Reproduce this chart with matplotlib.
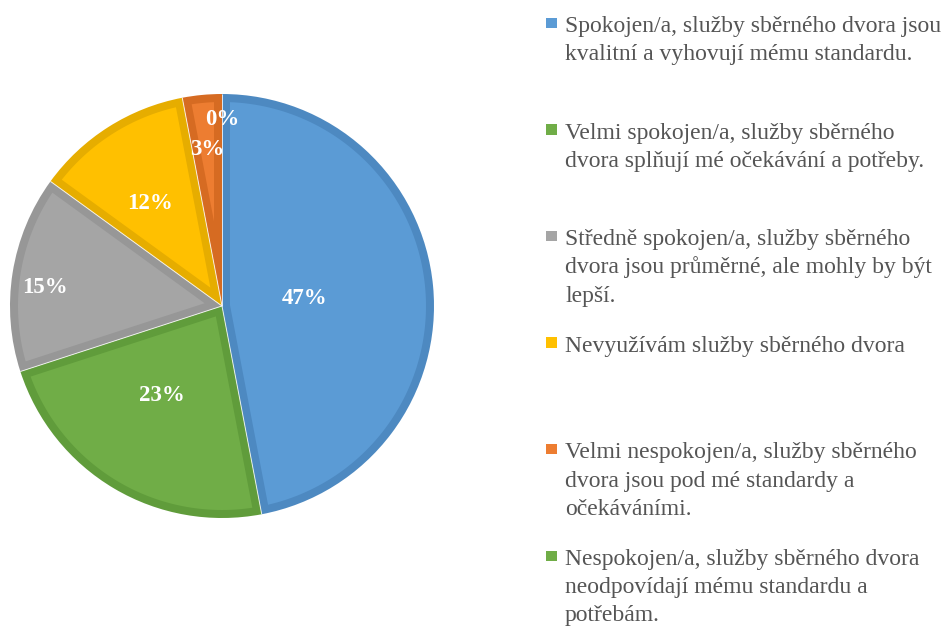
import matplotlib
matplotlib.use("Agg")
import matplotlib.pyplot as plt
from matplotlib.patches import Polygon
import numpy as np

# Survey answers (share of respondents, %)
categories = [
    "Spokojen/a, služby sběrného dvora jsou\nkvalitní a vyhovují mému standardu.",
    "Velmi spokojen/a, služby sběrného\ndvora splňují mé očekávání a potřeby.",
    "Středně spokojen/a, služby sběrného\ndvora jsou průměrné, ale mohly by být\nlepší.",
    "Nevyužívám služby sběrného dvora",
    "Velmi nespokojen/a, služby sběrného\ndvora jsou pod mé standardy a\nočekáváními.",
    "Nespokojen/a, služby sběrného dvora\nneodpovídají mému standardu a\npotřebám.",
]
values = [47, 23, 15, 12, 3, 0]

fill_colors = ["#5B9BD5", "#70AD47", "#A5A5A5", "#FFC000", "#ED7D31", "#70AD47"]
edge_colors = ["#4D89C1", "#609C3B", "#979797", "#E6AD00", "#D66B22", "#609C3B"]
label_radius = [0.39, 0.51, 0.84, 0.59, 0.74, 0.88]
label_shift = [0.0, -3.5, 3.0, 2.6, 0.0, 0.0]  # degrees

SERIF = ["Liberation Serif", "DejaVu Serif"]
W, H = 947, 626

fig = plt.figure(figsize=(W / 100, H / 100), dpi=100)
cx, cy, r = 222, 306, 212
ax = fig.add_axes([(cx - r) / W, (H - cy - r) / H, 2 * r / W, 2 * r / H])

# outer slices in the darker rim colour
wedges, _ = ax.pie(values, colors=edge_colors, startangle=90, counterclock=False,
                   radius=1, wedgeprops=dict(linewidth=0))

rim = 8 / r  # rim width in data units


def inset_slice(theta_hi, theta_lo, b):
    """Polygon of a slice shrunk inward by distance b on every side (degrees)."""
    half = np.deg2rad(theta_hi - theta_lo) / 2
    if half <= 0:
        return None
    ro = 1 - b
    d = np.rad2deg(np.arcsin(b / ro))
    if theta_hi - d <= theta_lo + d:
        return None
    arc = np.deg2rad(np.linspace(theta_hi - d, theta_lo + d, 120))
    mid = np.deg2rad((theta_hi + theta_lo) / 2)
    apex_r = b / np.sin(half)
    pts = [(apex_r * np.cos(mid), apex_r * np.sin(mid))]
    pts += list(zip(ro * np.cos(arc), ro * np.sin(arc)))
    return pts


total = sum(values)
start = 90.0
bounds = []
for v, fc, rr, sh in zip(values, fill_colors, label_radius, label_shift):
    span = 360.0 * v / total
    hi, lo = start, start - span
    pts = inset_slice(hi, lo, rim)
    if pts is not None:
        ax.add_patch(Polygon(pts, closed=True, facecolor=fc, edgecolor="none"))
    if v > 0:
        bounds.append(lo)
    mid = np.deg2rad(hi - span / 2 + sh)
    ax.text(rr * np.cos(mid), rr * np.sin(mid), f"{v}%", ha="center", va="center",
            color="white", fontsize=16.5, fontweight="bold", family=SERIF, zorder=5)
    start = lo

# faint white seams between neighbouring slices
for b in bounds:
    t = np.deg2rad(b)
    ax.plot([0, np.cos(t)], [0, np.sin(t)], color="white", lw=0.7, alpha=0.8,
            solid_capstyle="butt", zorder=4)

ax.set_xlim(-1, 1)
ax.set_ylim(-1, 1)
ax.set_aspect("equal")
ax.axis("off")

# legend
first_baseline = 32
entry_step = 106.6
line_step = 28.2
text_x = 565
for i, (cat, col) in enumerate(zip(categories, fill_colors)):
    base = first_baseline + i * entry_step
    fig.patches.append(plt.Rectangle((546 / W, 1 - (base - 4) / H), 10.5 / W, 10.5 / H,
                                     transform=fig.transFigure, facecolor=col,
                                     edgecolor="none"))
    for j, line in enumerate(cat.split("\n")):
        fig.text(text_x / W, 1 - (base + j * line_step) / H, line, ha="left",
                 va="baseline", fontsize=17, color="#555555", family=SERIF)

fig.savefig("out.png", dpi=100, facecolor="white")
